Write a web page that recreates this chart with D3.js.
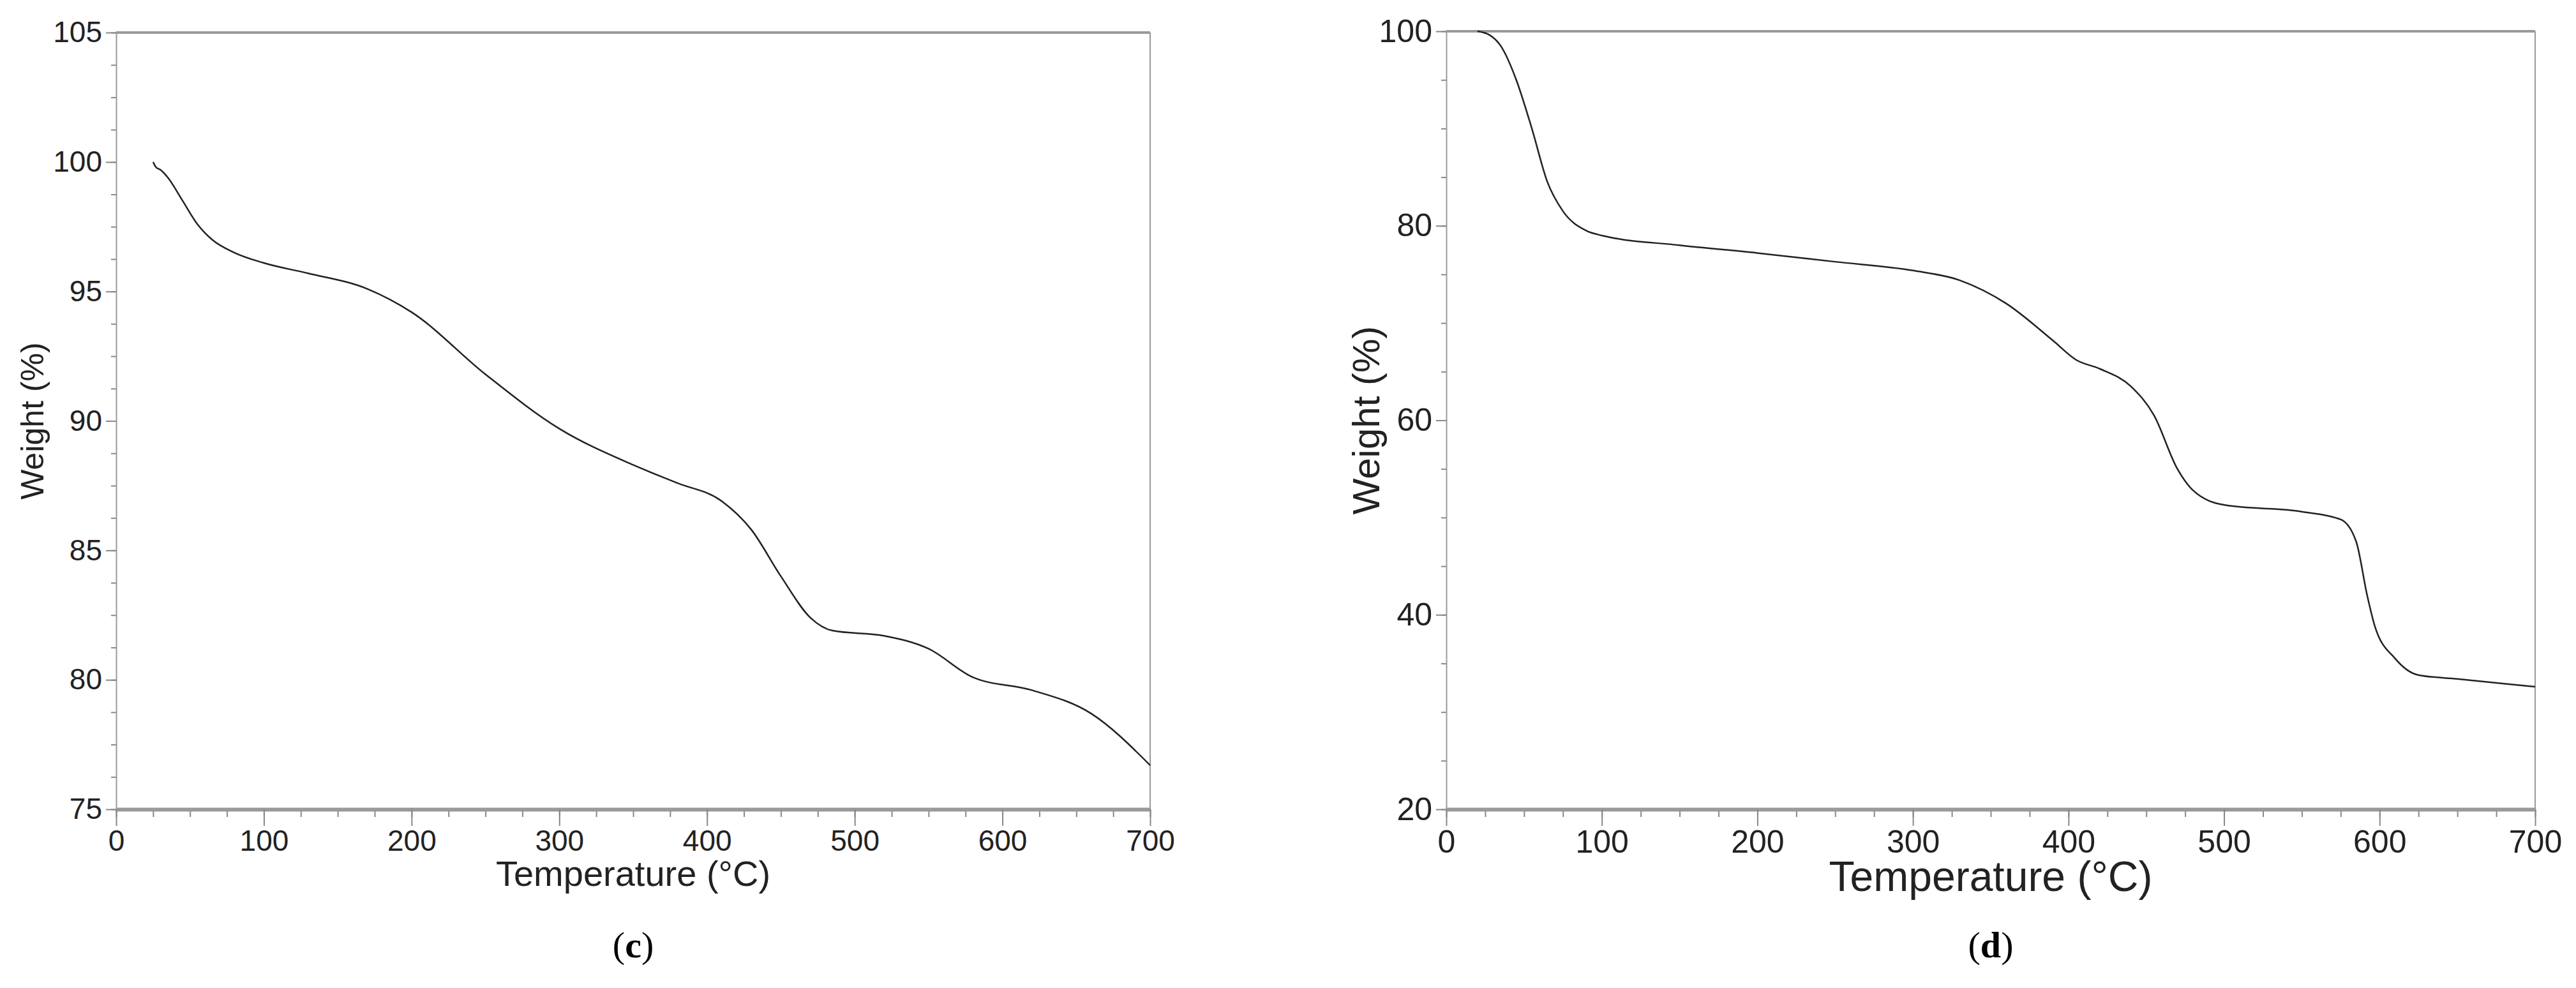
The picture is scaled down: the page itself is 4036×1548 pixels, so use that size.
<!DOCTYPE html>
<html><head><meta charset="utf-8">
<script src="https://cdn.jsdelivr.net/npm/d3@7"></script>
<style>body{margin:0;background:#fff}</style>
</head><body>
<script>
// temperature / weight readings for the two TGA curves
var tempC = [25,27,30,35,45,55,65,80,100,130,170,200,250,300,350,380,410,430,450,470,485,520,550,580,620,660,700];
var weightC = [100,99.8,99.7,99.4,98.5,97.6,97.0,96.5,96.1,95.7,95.1,94.2,91.8,89.7,88.3,87.6,86.9,85.8,84.0,82.4,81.9,81.7,81.2,80.1,79.6,78.7,76.7];
var tempD = [20,28,35,45,55,65,75,90,100,150,200,250,300,330,360,390,405,420,440,455,470,480,500,550,575,585,592,597,610,625,650,700];
var weightD = [100,99.6,98.5,95,90,84.5,81.5,79.5,79,78,77.2,76.3,75.4,74.4,72,68.2,66.2,65.3,63.5,60.5,55,52.8,51.3,50.6,49.8,47.5,42,38.8,35.5,33.8,33.4,32.6];
var xTicks = [0,100,200,300,400,500,600,700];
var yTicksC = [75,80,85,90,95,100,105];
var yTicksD = [20,40,60,80,100];

var svg = d3.select("body").append("svg").attr("width", 4036).attr("height", 1548);
var narrow = "'Liberation Sans Narrow','Arial Narrow','Liberation Sans',sans-serif";

function panel(o){
    var x = d3.scaleLinear().domain([0,700]).range([o.left,o.right]);
    var y = d3.scaleLinear().domain(o.yDom).range([o.bottom,o.top]);
    var g = svg.append("g");
    // frame
    g.append("line").attr("x1",o.left).attr("x2",o.right).attr("y1",o.top).attr("y2",o.top).attr("stroke","#999").attr("stroke-width",4);
    g.append("line").attr("x1",o.right).attr("x2",o.right).attr("y1",o.top).attr("y2",o.bottom).attr("stroke","#999").attr("stroke-width",2);
    // minor ticks
    g.append("g").attr("transform","translate(0,"+o.bottom+")")
        .call(d3.axisBottom(x).tickValues(d3.range(0,701,25)).tickSize(12).tickFormat(""))
        .call(function(a){a.select(".domain").remove(); a.selectAll("line").attr("stroke","#888").attr("stroke-width",2);});
    var step = (o.yDom[1]-o.yDom[0])/(o.yTicks.length-1)/4;
    g.append("g").attr("transform","translate("+o.left+",0)")
        .call(d3.axisLeft(y).tickValues(d3.range(o.yDom[0],o.yDom[1]+0.001,step)).tickSize(8).tickFormat(""))
        .call(function(a){a.select(".domain").remove(); a.selectAll("line").attr("stroke","#888").attr("stroke-width",2);});
    // major axes
    var xa = g.append("g").attr("transform","translate(0,"+o.bottom+")")
        .call(d3.axisBottom(x).tickValues(xTicks).tickSize(26).tickPadding(6).tickSizeOuter(0));
    xa.select(".domain").attr("stroke","#999").attr("stroke-width",o.bw);
    xa.selectAll("line").attr("stroke","#888").attr("stroke-width",2);
    xa.selectAll("text").attr("font-family",narrow).attr("font-size",o.fs).attr("fill","#222");
    var ya = g.append("g").attr("transform","translate("+o.left+",0)")
        .call(d3.axisLeft(y).tickValues(o.yTicks).tickSize(16).tickPadding(6).tickSizeOuter(0));
    ya.select(".domain").attr("stroke","#999").attr("stroke-width",2);
    ya.selectAll("line").attr("stroke","#888").attr("stroke-width",2);
    ya.selectAll("text").attr("font-family",narrow).attr("font-size",o.fs).attr("fill","#222");
    // curve
    var pts = o.t.map(function(t,i){return [t,o.w[i]];});
    g.append("path").datum(pts)
        .attr("d", d3.line().x(function(d){return x(d[0]);}).y(function(d){return y(d[1]);}).curve(d3.curveMonotoneX))
        .attr("fill","none").attr("stroke","#222").attr("stroke-width",2.5);
    // titles
    g.append("text").attr("x",(o.left+o.right)/2).attr("y",o.bottom+o.tY)
        .attr("text-anchor","middle").attr("font-family",narrow).attr("font-size",o.tfs).attr("fill","#222")
        .text("Temperature (°C)");
    g.append("text").attr("transform","translate("+o.yX+","+((o.top+o.bottom)/2)+") rotate(-90)")
        .attr("text-anchor","middle").attr("dy","0.35em").attr("font-family","'Liberation Sans',Arial,sans-serif")
        .attr("font-size",o.yfs).attr("fill","#222").text("Weight (%)");
    g.append("text").attr("x",(o.left+o.right)/2).attr("y",1500)
        .attr("text-anchor","middle").attr("font-family","'Liberation Serif','Times New Roman',serif")
        .attr("font-size",58).text("(").append("tspan").attr("font-weight","bold").text(o.label)
        .select(function(){return this.parentNode;}).append("tspan").text(")");
}

panel({left:182,right:1802,top:51,bottom:1268,yDom:[75,105],yTicks:yTicksC,t:tempC,w:weightC,
       fs:46,tfs:56,tY:120,yX:50,yfs:50,bw:6,label:"c"});
panel({left:2266,right:3972,top:49,bottom:1268,yDom:[20,100],yTicks:yTicksD,t:tempD,w:weightD,
       fs:50,tfs:66,tY:128,yX:2140,yfs:60,bw:6,label:"d"});
</script>
</body></html>
